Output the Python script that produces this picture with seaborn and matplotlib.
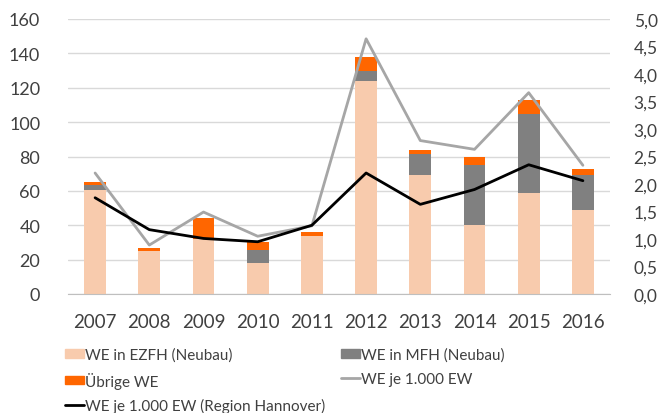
import matplotlib
matplotlib.use("Agg")
import matplotlib.pyplot as plt
import seaborn as sns
import numpy as np
from matplotlib.patches import Patch
from matplotlib.lines import Line2D

# data
years = ["2007", "2008", "2009", "2010", "2011", "2012", "2013", "2014", "2015", "2016"]
we_ezfh = [60.5, 25, 32, 18, 34, 124, 69, 40, 59, 49]
we_mfh = [3, 0, 0, 7.5, 0, 6, 12.5, 35, 46, 20]
we_other = [1.5, 2, 12, 5, 2, 8, 2.5, 5, 8, 4]
we_per_1000 = [2.2, 0.89, 1.49, 1.05, 1.24, 4.64, 2.79, 2.63, 3.66, 2.34]
we_per_1000_region = [1.75, 1.17, 1.01, 0.95, 1.25, 2.2, 1.63, 1.9, 2.35, 2.06]

c_ezfh = "#F8CBAD"
c_mfh = "#808080"
c_other = "#FF6600"
c_line = "#A6A6A6"
c_region = "#000000"

sns.set_style("white")
plt.rcParams["font.family"] = ["Lato", "DejaVu Sans"]

fig = plt.figure(figsize=(6.59, 4.14), dpi=100)
ax = fig.add_axes([68 / 659, 1 - 295 / 414, (610 - 68) / 659, (295 - 20) / 414])

bottom2 = np.array(we_ezfh)
bottom3 = bottom2 + np.array(we_mfh)
sns.barplot(x=years, y=we_ezfh, color=c_ezfh, width=0.4, ax=ax, saturation=1, linewidth=0)
sns.barplot(x=years, y=we_mfh, color=c_mfh, width=0.4, ax=ax, saturation=1, bottom=bottom2, linewidth=0)
sns.barplot(x=years, y=we_other, color=c_other, width=0.4, ax=ax, saturation=1, bottom=bottom3, linewidth=0)

ax.set_ylim(0, 160)
ax.set_yticks(range(0, 161, 20))
ax.set_xlim(-0.5, 9.5)
ax.yaxis.grid(True, color="#D9D9D9", linewidth=1)
ax.set_axisbelow(True)
for s in ["left", "right", "top"]:
    ax.spines[s].set_visible(False)
ax.spines["bottom"].set_color("#BFBFBF")
ax.tick_params(axis="y", length=0, labelsize=13, colors="#404040", pad=20)
ax.tick_params(axis="x", length=0, labelsize=13.5, colors="#404040", pad=14)
# boundary tick marks between categories
ax.set_xticks(np.arange(-0.5, 10, 1), minor=True)
ax.tick_params(axis="x", which="minor", length=5, color="#BFBFBF")

ax2 = ax.twinx()
xpos = np.arange(len(years))
sns.lineplot(x=xpos, y=we_per_1000, color=c_line, linewidth=2, ax=ax2)
sns.lineplot(x=xpos, y=we_per_1000_region, color=c_region, linewidth=2, ax=ax2)
ax2.set_ylim(0, 5)
ax2.set_yticks(np.arange(0, 5.01, 0.5))
ax2.set_yticklabels([f"{v:.1f}".replace(".", ",") for v in np.arange(0, 5.01, 0.5)])
ax2.tick_params(axis="y", length=0, labelsize=12.5, colors="#404040", pad=17)
for s in ["left", "right", "top", "bottom"]:
    ax2.spines[s].set_visible(False)
ax2.set_xlim(-0.5, 9.5)

h_ezfh = Patch(color=c_ezfh, label="WE in EZFH (Neubau)")
h_mfh = Patch(color=c_mfh, label="WE in MFH (Neubau)")
h_other = Patch(color=c_other, label="Übrige WE")
h_line = Line2D([], [], color=c_line, linewidth=2, label="WE je 1.000 EW")
h_region = Line2D([], [], color=c_region, linewidth=2, label="WE je 1.000 EW (Region Hannover)")
# column-major order so the rows read like the reference
handles = [h_ezfh, h_other, h_region, h_mfh, h_line]
fig.legend(handles=handles, ncol=2, loc="upper left", bbox_to_anchor=(54 / 659, 1 - 338 / 414),
           frameon=False, fontsize=11, handlelength=1.25, handleheight=0.5, handletextpad=0.1,
           columnspacing=1.0, labelspacing=0.62, labelcolor="#404040", borderpad=0.2)

fig.savefig("out.png", dpi=100)
